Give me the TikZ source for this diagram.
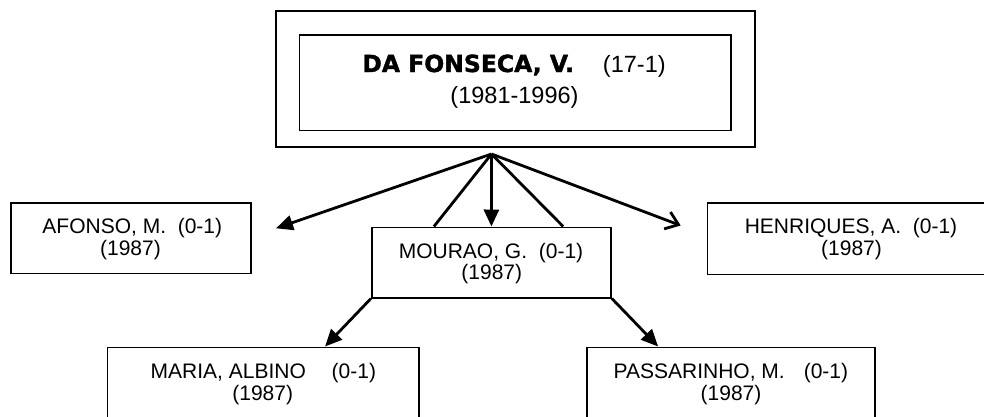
\documentclass[tikz,border=0pt]{standalone}
\usepackage{fontspec}
\setmainfont{Liberation Sans}
\newfontfamily\dvs{DejaVu Sans}[BoldFeatures={FakeBold=1.5}]
\usetikzlibrary{arrows.meta}
\begin{document}
\begin{tikzpicture}[x=1pt,y=-1pt,
  box/.style={draw, line width=1.6pt, inner sep=0pt},
  conn/.style={line width=2.8pt},
  arr/.style={conn, -{Triangle[length=17pt,width=15pt]}},
  openarr/.style={conn, -{Straight Barb[length=12pt,width=18pt]}},
  txt/.style={inner sep=0pt, anchor=base, font=\fontsize{21}{21}\selectfont},
  toptxt/.style={inner sep=0pt, anchor=base, font=\fontsize{23.5}{23.5}\selectfont}]
\useasboundingbox (0,0) rectangle (984,416);
% top boxes
\node[box, minimum width=479pt, minimum height=135.7pt] (outer) at (515.5,78.9) {};
\node[box, minimum width=431.6pt, minimum height=95.8pt] (inner) at (515.2,82.6) {};
\node[toptxt] (topa) at (514,72) {{\dvs\bfseries DA FONSECA, V.}\hspace{29pt}(17-1)};
\node[toptxt] (topb) at (514.5,103.8) {(1981-1996)};
% children
\node[box, minimum width=239.7pt, minimum height=70.6pt] (afonso) at (130.9,238) {};
\node[txt] (afa) at (132.3,233.7) {AFONSO, M.\hspace{11.7pt}(0-1)};
\node[txt] (afb) at (130.5,255.2) {(1987)};
\node[box, minimum width=239.3pt, minimum height=70.4pt] (mourao) at (491.4,262.5) {};
\node[txt] (moa) at (491,258.3) {MOURAO, G.\hspace{11.7pt}(0-1)};
\node[txt] (mob) at (491.8,279.8) {(1987)};
\node[box, minimum width=287.4pt, minimum height=71.5pt] (henr) at (851,238.75) {};
\node[txt] (hea) at (851,233.5) {HENRIQUES, A.\hspace{11.7pt}(0-1)};
\node[txt] (heb) at (851.5,255) {(1987)};
\node[box, minimum width=311.7pt, minimum height=71pt] (maria) at (263.2,382.8) {};
\node[txt] (maa) at (263.4,378.3) {MARIA, ALBINO\hspace{25.8pt}(0-1)};
\node[txt] (mab) at (262.7,400.5) {(1987)};
\node[box, minimum width=288.3pt, minimum height=71pt] (pass) at (730.9,382.8) {};
\node[txt] (paa) at (730.9,378.3) {PASSARINHO, M.\hspace{19pt}(0-1)};
\node[txt] (pab) at (731,400.5) {(1987)};
% connectors
\coordinate (apex) at (491.5,154);
\coordinate (afend) at (276,228.3);
\coordinate (heend) at (680.7,225.5);
\draw[arr] (apex) -- (afend);
\draw[openarr] (apex) -- (heend);
\draw[arr] (apex) -- (mourao.north);
\draw[conn] (apex) -- ([xshift=-57.5pt]mourao.north);
\draw[conn] (apex) -- ([xshift=71.8pt]mourao.north);
\draw[arr] (mourao.south west) -- ([xshift=61.8pt]maria.north);
\draw[arr] (mourao.south east) -- ([xshift=-72.8pt]pass.north);
\end{tikzpicture}
\end{document}
